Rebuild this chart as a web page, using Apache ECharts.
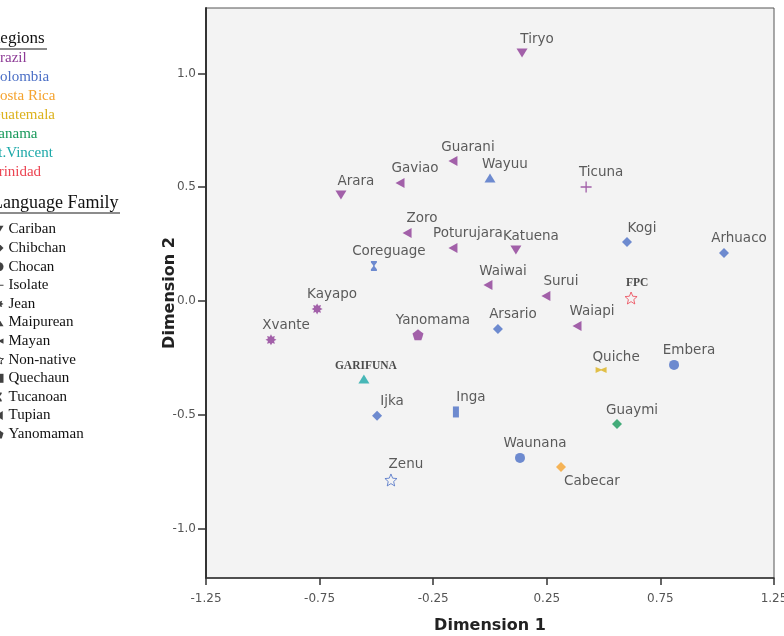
<!DOCTYPE html>
<html lang="en">
<head>
<meta charset="UTF-8">
<title>Dimension plot</title>
<script src="https://cdn.jsdelivr.net/npm/echarts@6/dist/echarts.min.js"></script>
<style>
  html, body { margin: 0; padding: 0; background: #fff; }
  #main { width: 784px; height: 636px; }
</style>
</head>
<body>
<div id="main"></div>
<script>
// points
var names = ['Tiryo', 'Guarani', 'Wayuu', 'Ticuna', 'Gaviao', 'Arara', 'Zoro', 'Poturujara', 'Katuena', 'Coreguage',
  'Kogi', 'Arhuaco', 'Waiwai', 'Surui', 'FPC', 'Waiapi', 'Arsario', 'Kayapo', 'Xvante', 'Yanomama',
  'GARIFUNA', 'Quiche', 'Embera', 'Ijka', 'Inga', 'Guaymi', 'Waunana', 'Cabecar', 'Zenu'];
var dim1 = [0.141, -0.163, 0.0, 0.423, -0.396, -0.656, -0.365, -0.163, 0.114, -0.511,
  0.603, 1.03, -0.009, 0.246, 0.621, 0.383, 0.035, -0.761, -0.964, -0.317,
  -0.555, 0.489, 0.81, -0.497, -0.15, 0.559, 0.132, 0.3125, -0.436];
var dim2 = [1.09, 0.615, 0.541, 0.501, 0.519, 0.466, 0.299, 0.233, 0.224, 0.154,
  0.259, 0.211, 0.07, 0.022, 0.013, -0.11, -0.123, -0.035, -0.171, -0.149,
  -0.343, -0.303, -0.281, -0.505, -0.488, -0.541, -0.69, -0.73, -0.787];
var region = ['Brazil', 'Brazil', 'Colombia', 'Brazil', 'Brazil', 'Brazil', 'Brazil', 'Brazil', 'Brazil', 'Colombia',
  'Colombia', 'Colombia', 'Brazil', 'Brazil', 'Trinidad', 'Brazil', 'Colombia', 'Brazil', 'Brazil', 'Brazil',
  'St.Vincent', 'Guatemala', 'Colombia', 'Colombia', 'Colombia', 'Panama', 'Colombia', 'Costa Rica', 'Colombia'];
var family = ['Cariban', 'Tupian', 'Maipurean', 'Isolate', 'Tupian', 'Cariban', 'Tupian', 'Tupian', 'Cariban', 'Tucanoan',
  'Chibchan', 'Chibchan', 'Tupian', 'Tupian', 'Non-native', 'Tupian', 'Chibchan', 'Jean', 'Jean', 'Yanomaman',
  'Maipurean', 'Mayan', 'Chocan', 'Chibchan', 'Quechaun', 'Chibchan', 'Chocan', 'Chibchan', 'Non-native'];

var regions = ['Brazil', 'Colombia', 'Costa Rica', 'Guatemala', 'Panama', 'St.Vincent', 'Trinidad'];
var regionColors = ['#8d3b96', '#4b6fc6', '#f5a32e', '#dcb21c', '#17995a', '#1ba8a8', '#ec4452'];
var families = ['Cariban', 'Chibchan', 'Chocan', 'Isolate', 'Jean', 'Maipurean', 'Mayan', 'Non-native',
  'Quechaun', 'Tucanoan', 'Tupian', 'Yanomaman'];

var xTicks = [-1.25, -0.75, -0.25, 0.25, 0.75, 1.25];
var yTicks = [-1.0, -0.5, 0.0, 0.5, 1.0];

// marker shapes
function star(n, r1, r2) {
  var pts = [];
  for (var i = 0; i < n * 2; i++) {
    var r = i % 2 ? r2 : r1;
    var a = Math.PI * i / n - Math.PI / 2;
    pts.push((10 + r * 10 * Math.cos(a)).toFixed(2) + ',' + (10 + r * 10 * Math.sin(a)).toFixed(2));
  }
  return 'path://M' + pts.join('L') + 'Z';
}
var shapes = {
  'Cariban':    { symbol: 'path://M0,0L12,0L6,10Z', size: [11, 9] },
  'Chibchan':   { symbol: 'diamond', size: [10, 10] },
  'Chocan':     { symbol: 'circle', size: 10 },
  'Isolate':    { symbol: 'path://M4.4,0H5.6V4.4H10V5.6H5.6V10H4.4V5.6H0V4.4H4.4Z', size: 11 },
  'Jean':       { symbol: star(8, 1, 0.6), size: 11 },
  'Maipurean':  { symbol: 'path://M6,0L12,10L0,10Z', size: [11, 9] },
  'Mayan':      { symbol: 'path://M0,0L5,2.4L10,0V6L5,3.6L0,6Z', size: [11, 6] },
  'Non-native': { symbol: star(5, 1, 0.45), size: 12, outline: true },
  'Quechaun':   { symbol: 'rect', size: [6, 11] },
  'Tucanoan':   { symbol: 'path://M0,0H6V1.6L3.8,4.4V5.6L6,8.4V10H0V8.4L2.2,5.6V4.4L0,1.6Z', size: [6, 10] },
  'Tupian':     { symbol: 'path://M10,0V12L0,6Z', size: [9, 10] },
  'Yanomaman':  { symbol: star(5, 1, 0.81), size: 11 }
};

var serifBold = { fontFamily: 'Liberation Serif', fontWeight: 'bold', fontSize: 11.5, color: '#222' };
var labelTweaks = {
  'GARIFUNA': Object.assign({ offset: [2, 0] }, serifBold),
  'FPC': Object.assign({ offset: [6, 0] }, serifBold),
  'Cabecar': { position: 'bottom', offset: [31, 0] }
};

var seriesList = families.map(function (fam) {
  var sh = shapes[fam];
  var data = [];
  names.forEach(function (n, i) {
    if (family[i] !== fam) return;
    var c = regionColors[regions.indexOf(region[i])];
    var item = {
      name: n,
      value: [dim1[i], dim2[i]],
      itemStyle: sh.outline ? { color: 'rgba(0,0,0,0)', borderColor: c, borderWidth: 1 } : { color: c }
    };
    if (labelTweaks[n]) item.label = labelTweaks[n];
    data.push(item);
  });
  return {
    type: 'scatter',
    name: fam,
    symbol: sh.symbol,
    symbolSize: sh.size,
    data: data,
    label: {
      show: true,
      formatter: '{b}',
      position: 'top',
      distance: 2,
      offset: [15, 0],
      fontFamily: 'DejaVu Sans',
      fontSize: 13.5,
      color: '#333'
    }
  };
});

var graphics = [];
graphics.push({ type: 'text', x: -11, y: 39, style: { text: 'Regions', font: '17px "Liberation Serif"', fill: '#111', verticalAlign: 'middle' } });
graphics.push({ type: 'line', shape: { x1: 0, y1: 49, x2: 47, y2: 49 }, style: { stroke: '#666', lineWidth: 1.5 } });
regions.forEach(function (r, i) {
  graphics.push({ type: 'text', x: -10, y: 58 + i * 19, style: { text: r, font: '15px "Liberation Serif"', fill: regionColors[i], verticalAlign: 'middle' } });
});
graphics.push({ type: 'text', x: -8, y: 203, style: { text: 'Language Family', font: '18px "Liberation Serif"', fill: '#111', verticalAlign: 'middle' } });
graphics.push({ type: 'line', shape: { x1: 0, y1: 213, x2: 120, y2: 213 }, style: { stroke: '#666', lineWidth: 1.5 } });

var chart = echarts.init(document.getElementById('main'));
var option = {
  animation: false,
  backgroundColor: '#fff',
  grid: {
    left: 206, right: 10, top: 8, bottom: 58,
    outerBoundsMode: 'none',
    show: true, backgroundColor: '#f3f3f3', borderColor: '#555', borderWidth: 1
  },
  legend: {
    orient: 'vertical',
    left: -11,
    top: 217,
    itemWidth: 9,
    itemHeight: 9,
    itemGap: 3.6,
    selectedMode: false,
    textStyle: { fontFamily: 'Liberation Serif', fontSize: 15, color: '#111' },
    data: families.map(function (f) {
      return {
        name: f,
        icon: shapes[f].symbol,
        itemStyle: shapes[f].outline ? { color: 'rgba(0,0,0,0)', borderColor: '#111', borderWidth: 1 } : { color: '#111', borderWidth: 0 }
      };
    })
  },
  graphic: graphics,
  xAxis: {
    type: 'value',
    min: -1.25,
    max: 1.25,
    name: 'Dimension 1',
    nameLocation: 'middle',
    nameGap: 40,
    nameMoveOverlap: false,
    nameTextStyle: { fontFamily: 'DejaVu Sans', fontWeight: 'bold', fontSize: 16, color: '#222' },
    axisLine: { onZero: false, lineStyle: { color: '#333', width: 1.5 } },
    axisTick: { show: true, length: 7, customValues: xTicks, lineStyle: { color: '#333', width: 1.5 } },
    axisLabel: {
      customValues: xTicks, margin: 15,
      fontFamily: 'DejaVu Sans', fontSize: 12, color: '#555',
      formatter: function (v) { return v.toFixed(2); }
    },
    splitLine: { show: false }
  },
  yAxis: {
    type: 'value',
    min: -1.218,
    max: 1.288,
    name: 'Dimension 2',
    nameLocation: 'middle',
    nameGap: 28,
    nameMoveOverlap: false,
    nameTextStyle: { fontFamily: 'DejaVu Sans', fontWeight: 'bold', fontSize: 16, color: '#222' },
    axisLine: { onZero: false, lineStyle: { color: '#333', width: 2 } },
    axisTick: { show: true, length: 8, customValues: yTicks, lineStyle: { color: '#333', width: 1.5 } },
    axisLabel: {
      customValues: yTicks, margin: 10,
      fontFamily: 'DejaVu Sans', fontSize: 12, color: '#555',
      formatter: function (v) { return v.toFixed(1); }
    },
    splitLine: { show: false }
  },
  series: seriesList
};
chart.setOption(option);
</script>
</body>
</html>
